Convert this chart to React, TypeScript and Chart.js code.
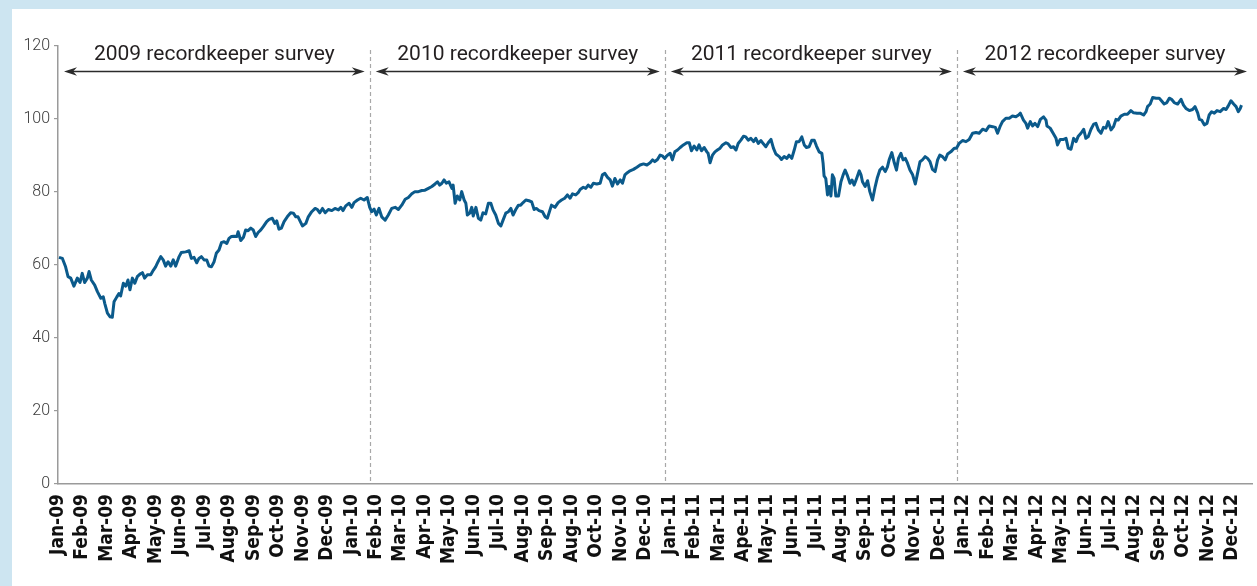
import React, { useEffect, useRef } from "react";
import { Chart, registerables } from "chart.js";

Chart.register(...registerables);

// Category tick labels, exactly as printed on the original chart
const monthLabels = [
  "Jan-09", "Feb-09", "Mar-09", "Apr-09", "May-09", "Jun-09", "Jul-09", "Aug-09", "Sep-09", "Oct-09", "Nov-09", "Dec-09",
  "Jan-10", "Feb-10", "Mar-10", "Apr-10", "May-10", "Jun-10", "Jul-10", "Aug-10", "Sep-10", "Aug-10", "Oct-10", "Nov-10", "Dec-10",
  "Jan-11", "Feb-11", "Mar-11", "Ape-11", "May-11", "Jun-11", "Jul-11", "Aug-11", "Sep-11", "Oct-11", "Nov-11", "Dec-11",
  "Jan-12", "Feb-12", "Mar-12", "Apr-12", "May-12", "Jun-12", "Jul-12", "Aug-12", "Sep-12", "Oct-12", "Nov-12", "Dec-12",
];

// Position of each observation, in tick-label units (0 = Jan-09)
const months = [
  0.04, 0.18, 0.31, 0.41, 0.52, 0.65, 0.79, 0.90, 0.99, 1.09, 1.20, 1.27, 1.36, 1.50, 1.61, 1.75, 1.85, 1.91, 2.02, 2.13,
  2.22, 2.29, 2.40, 2.49, 2.56, 2.67, 2.77, 2.86, 2.94, 3.04, 3.14, 3.24, 3.35, 3.45, 3.54, 3.65, 3.79, 3.90, 3.99, 4.09,
  4.20, 4.30, 4.40, 4.50, 4.61, 4.71, 4.81, 4.95, 5.04, 5.22, 5.36, 5.45, 5.56, 5.67, 5.76, 5.86, 5.97, 6.08, 6.17, 6.27,
  6.38, 6.47, 6.58, 6.68, 6.79, 6.90, 6.99, 7.08, 7.20, 7.31, 7.36, 7.47, 7.58, 7.67, 7.77, 7.88, 7.98, 8.08, 8.18, 8.29,
  8.39, 8.53, 8.63, 8.76, 8.86, 8.94, 9.03, 9.13, 9.24, 9.37, 9.51, 9.62, 9.72, 9.81,
  9.99, 10.13, 10.23, 10.37, 10.51, 10.60, 10.70, 10.81, 10.92, 11.05, 11.19, 11.32, 11.46, 11.56, 11.65, 11.76, 11.90,
  12.01, 12.10, 12.24, 12.37, 12.51, 12.64, 12.74, 12.82, 12.92, 13.01, 13.12, 13.23, 13.37, 13.50, 13.64, 13.78, 13.91,
  14.05, 14.19, 14.32, 14.46, 14.59, 14.73, 14.87, 15.00, 15.14, 15.28, 15.41, 15.51, 15.60, 15.69, 15.78, 15.87, 15.98,
  16.10, 16.15, 16.23, 16.32, 16.42, 16.50, 16.60, 16.67, 16.73, 16.83, 16.91, 16.97, 17.08, 17.18, 17.28, 17.37, 17.48,
  17.59, 17.69, 17.78, 17.89, 18.00, 18.10, 18.19, 18.30, 18.41, 18.51, 18.60, 18.71, 18.82, 18.91, 19.01, 19.12, 19.25,
  19.36, 19.46, 19.55, 19.66, 19.80, 19.91, 20.00,
  20.17, 20.31, 20.44, 20.58, 20.71, 20.82, 20.93, 21.03, 21.16, 21.26, 21.34, 21.47, 21.57, 21.67, 21.78, 21.88, 22.02,
  22.16, 22.25, 22.35, 22.46, 22.57, 22.66, 22.76, 22.87, 22.98, 23.07, 23.17, 23.27, 23.38, 23.52, 23.66, 23.79, 23.93,
  24.07, 24.20, 24.30, 24.39, 24.50, 24.61, 24.70, 24.80, 24.91, 25.02, 25.11, 25.21, 25.32, 25.43, 25.56, 25.70, 25.80,
  25.89, 26.00, 26.11, 26.20, 26.30, 26.41, 26.52, 26.57, 26.65, 26.75, 26.85, 26.95, 27.06, 27.16, 27.30, 27.39, 27.50,
  27.61, 27.71, 27.80, 27.91, 28.02, 28.11, 28.21, 28.32, 28.43, 28.52, 28.62, 28.73, 28.83, 28.93, 29.03, 29.14, 29.24,
  29.34, 29.48, 29.57, 29.68, 29.79,
  29.88, 29.99, 30.09, 30.18, 30.29, 30.40, 30.50, 30.59, 30.70, 30.81, 30.91, 31.00, 31.11, 31.22, 31.27, 31.31, 31.38,
  31.45, 31.52, 31.59, 31.65, 31.72, 31.79, 31.90, 32.00, 32.09, 32.17, 32.27, 32.37, 32.45, 32.54, 32.64, 32.75, 32.82,
  32.88, 32.99, 33.09, 33.18, 33.29, 33.40, 33.49, 33.59, 33.70, 33.81, 33.90, 33.97, 34.08, 34.18, 34.27, 34.35, 34.45,
  34.54, 34.63, 34.72, 34.82, 34.93, 35.04, 35.13, 35.23, 35.33, 35.44, 35.54, 35.64, 35.74, 35.85, 35.95, 36.04, 36.15,
  36.26, 36.36, 36.49, 36.63, 36.72, 36.83, 36.97, 37.11, 37.24, 37.38, 37.52, 37.65, 37.79, 37.93, 38.06, 38.20, 38.31,
  38.40, 38.50, 38.60, 38.74, 38.88, 39.01,
  39.15, 39.26, 39.33, 39.46, 39.56, 39.63, 39.74, 39.83, 39.93, 40.04, 40.15, 40.28, 40.38, 40.42, 40.55, 40.69, 40.79,
  40.85, 40.96, 41.10, 41.20, 41.29, 41.40, 41.51, 41.61, 41.70, 41.81, 41.92, 42.01, 42.11, 42.22, 42.33, 42.42, 42.52,
  42.63, 42.73, 42.83, 42.92, 43.04, 43.14, 43.24, 43.33, 43.44, 43.58, 43.71, 43.85, 43.96, 44.10, 44.23, 44.37, 44.47,
  44.53, 44.64, 44.74, 44.88, 45.01, 45.10, 45.21, 45.32, 45.42, 45.51, 45.62, 45.76, 45.90, 46.00, 46.10, 46.24, 46.37,
  46.47, 46.58, 46.65, 46.74, 46.85, 46.96, 47.05, 47.15, 47.26, 47.37, 47.50, 47.64, 47.74, 47.83, 47.94, 48.05, 48.15,
  48.24, 48.32, 48.37,
];

// Index value at each observation
const values = [
  62.1, 61.8, 59.5, 56.8, 56.4, 54.2, 56.4, 55.2, 57.7, 55.2, 56.4, 58.2, 55.9, 54.5, 52.7, 50.9, 51.3, 49.5, 46.8, 45.8,
  45.7, 49.9, 51.2, 52.2, 51.5, 55.0, 54.2, 55.9, 53.2, 56.4, 55.0, 56.8, 57.5, 57.9, 56.4, 57.3, 57.3, 58.6, 59.5, 60.9,
  62.3, 61.4, 59.7, 60.9, 59.7, 61.4, 59.7, 62.3, 63.4, 63.6, 63.9, 61.8, 62.1, 60.6, 61.8, 62.3, 61.4, 61.4, 59.7, 59.5,
  60.9, 63.2, 64.1, 66.1, 66.4, 65.9, 67.3, 67.8, 67.9, 67.8, 69.1, 66.7, 67.6, 69.6, 69.4, 70.1, 69.6, 67.8, 68.9, 69.6,
  70.5, 71.9, 72.5, 72.8, 71.4, 72.1, 69.8, 70.1, 71.9, 73.2, 74.3, 74.2, 73.2, 73.2,
  70.7, 71.4, 73.2, 74.6, 75.5, 75.2, 74.3, 75.5, 74.3, 75.2, 74.9, 75.5, 75.1, 75.8, 74.9, 76.2, 76.9,
  75.8, 77.1, 77.8, 78.3, 77.8, 78.5, 75.8, 74.6, 75.3, 73.7, 75.5, 73.2, 72.3, 73.7, 75.5, 75.8, 75.2,
  76.4, 78.0, 78.5, 79.5, 80.1, 80.1, 80.4, 80.5, 81.0, 81.5, 82.2, 82.8, 81.9, 82.4, 83.3, 82.4, 82.8,
  81.0, 81.9, 76.9, 78.9, 77.8, 80.1, 77.8, 76.9, 73.7, 74.2, 75.8, 73.4, 75.8, 72.8, 72.3, 74.3, 74.0,
  76.9, 76.9, 75.1, 73.7, 71.4, 70.7, 72.3, 74.2, 74.6, 75.5, 73.7, 75.2, 76.4, 76.4, 77.1, 77.8, 77.6,
  77.3, 75.2, 75.5, 74.9, 74.6, 73.2, 72.8,
  76.4, 75.8, 77.1, 77.8, 78.3, 79.2, 78.3, 79.5, 79.2, 79.8, 80.7, 81.3, 81.0, 81.9, 81.3, 82.4, 82.2,
  82.4, 84.7, 85.1, 84.0, 83.3, 81.6, 83.7, 82.2, 83.3, 82.4, 84.7, 85.3, 85.8, 86.2, 86.8, 87.4, 87.7,
  87.4, 88.0, 88.8, 88.3, 88.9, 90.1, 89.9, 89.2, 90.1, 90.6, 88.8, 91.0, 91.5, 92.2, 92.9, 93.5, 93.5,
  91.3, 92.6, 91.5, 92.9, 91.3, 92.2, 91.0, 90.6, 88.0, 90.1, 91.0, 91.5, 92.0, 92.9, 93.5, 93.2, 92.2,
  92.4, 91.5, 93.3, 94.2, 95.3, 95.1, 94.2, 94.7, 93.8, 94.7, 93.3, 94.1, 93.2, 92.4, 93.5, 94.4, 92.0,
  90.4, 89.7, 88.9, 89.7, 89.2,
  90.1, 89.2, 91.5, 93.8, 93.8, 95.1, 92.9, 92.2, 92.4, 94.2, 94.2, 92.6, 91.0, 90.6, 87.9, 84.4, 83.7,
  79.2, 81.5, 78.9, 84.7, 83.7, 78.9, 78.9, 82.8, 84.7, 86.0, 84.4, 82.4, 83.3, 81.9, 83.7, 85.8, 84.7,
  82.8, 81.5, 83.1, 80.1, 77.8, 81.5, 84.0, 86.0, 86.8, 85.6, 86.9, 88.8, 90.8, 88.0, 86.0, 89.2, 90.6,
  88.8, 89.2, 87.9, 86.0, 84.7, 82.2, 85.1, 88.3, 88.8, 89.7, 89.2, 88.3, 86.2, 85.6, 88.8, 90.1, 89.7,
  88.8, 90.4, 91.0, 92.0, 92.0, 93.3, 94.1, 93.8, 94.4, 96.1, 96.3, 96.1, 97.2, 96.8, 98.1, 97.9, 97.7,
  96.1, 97.9, 99.3, 100.2, 100.2, 100.8,
  100.6, 101.1, 101.6, 99.7, 98.8, 97.5, 99.3, 98.1, 98.8, 97.9, 99.9, 100.6, 99.7, 98.1, 97.5, 95.9, 94.7,
  92.9, 94.4, 94.4, 94.7, 92.0, 91.7, 94.7, 93.8, 95.3, 96.1, 97.2, 94.7, 95.2, 97.2, 98.6, 98.8, 97.0,
  96.1, 97.7, 97.5, 99.3, 97.0, 97.9, 99.9, 99.7, 100.8, 101.3, 101.3, 102.3, 101.7, 101.6, 101.6, 101.1, 102.0,
  103.4, 104.1, 105.9, 105.7, 105.7, 105.0, 104.1, 104.5, 105.7, 105.4, 104.5, 104.1, 105.4, 103.8, 102.9, 102.3, 102.6,
  103.4, 101.7, 99.9, 99.7, 98.4, 98.8, 101.1, 102.0, 101.6, 102.3, 102.0, 102.9, 102.6, 103.6, 105.0, 104.1, 103.4,
  102.0, 102.9, 103.8,
];

// Survey periods: labels and the dividing dates (tick-label units)
const surveyLabels = [
  "2009 recordkeeper survey",
  "2010 recordkeeper survey",
  "2011 recordkeeper survey",
  "2012 recordkeeper survey",
];
const surveyDividers = [12.74, 24.8, 36.74];

const X_MIN = 0;
const X_MAX = 48.8;
const Y_MIN = 0;
const Y_MAX = 120;
const Y_STEP = 20;
const ARROW_LEVEL = 113.2;
const LABEL_LEVEL = 117.7;

const LINE_COLOR = "#0b5a8b";
const AXIS_COLOR = "#9a9a9a";

function drawHead(ctx: CanvasRenderingContext2D, tipX: number, y: number, dir: number) {
  const len = 13;
  const half = 4.2;
  const notch = 9;
  ctx.beginPath();
  ctx.moveTo(tipX, y);
  ctx.lineTo(tipX - dir * len, y - half);
  ctx.lineTo(tipX - dir * notch, y);
  ctx.lineTo(tipX - dir * len, y + half);
  ctx.closePath();
  ctx.fill();
}

const surveyPlugin = {
  id: "surveyPeriods",
  beforeDatasetsDraw(chart: any) {
    const { ctx, chartArea, scales } = chart;
    const x = scales.x;
    ctx.save();
    ctx.strokeStyle = "#a8a8a8";
    ctx.lineWidth = 1.2;
    ctx.setLineDash([4, 3]);
    surveyDividers.forEach((d) => {
      const px = Math.round(x.getPixelForValue(d)) + 0.5;
      ctx.beginPath();
      ctx.moveTo(px, chartArea.top + 4);
      ctx.lineTo(px, chartArea.bottom);
      ctx.stroke();
    });
    ctx.restore();
  },
  afterDatasetsDraw(chart: any) {
    const { ctx, scales } = chart;
    const x = scales.x;
    const y = scales.y;
    const bounds = [X_MIN, ...surveyDividers, X_MAX];
    const ay = Math.round(y.getPixelForValue(ARROW_LEVEL)) + 0.5;
    const ty = y.getPixelForValue(LABEL_LEVEL);
    ctx.save();
    ctx.strokeStyle = "#2b2b2b";
    ctx.lineWidth = 1.5;
    surveyLabels.forEach((lab, i) => {
      const x0 = x.getPixelForValue(bounds[i]) + 6;
      const x1 = x.getPixelForValue(bounds[i + 1]) - 5;
      ctx.fillStyle = "#2b2b2b";
      ctx.beginPath();
      ctx.moveTo(x0 + 8, ay);
      ctx.lineTo(x1 - 8, ay);
      ctx.stroke();
      drawHead(ctx, x0, ay, -1);
      drawHead(ctx, x1, ay, 1);
      ctx.font = "400 21px Roboto";
      ctx.textAlign = "center";
      ctx.textBaseline = "middle";
      ctx.fillStyle = "#231f20";
      ctx.fillText(lab, (x0 + x1) / 2, ty);
    });
    ctx.restore();
  },
};

export default function App() {
  const canvasRef = useRef<HTMLCanvasElement | null>(null);

  useEffect(() => {
    if (!canvasRef.current) return;
    const points = months.map((m, i) => ({ x: m, y: values[i] }));
    const chart = new Chart(canvasRef.current, {
      type: "line",
      data: {
        datasets: [
          {
            data: points,
            borderColor: LINE_COLOR,
            borderWidth: 3,
            pointRadius: 0,
            tension: 0,
            fill: false,
            borderJoinStyle: "round",
          },
        ],
      },
      options: {
        animation: false,
        responsive: false,
        layout: { padding: { left: 0, top: 37, right: 5, bottom: 0 } },
        plugins: {
          legend: { display: false },
          tooltip: { enabled: false },
        },
        scales: {
          x: {
            type: "linear",
            min: X_MIN,
            max: X_MAX,
            afterBuildTicks: (scale: any) => {
              scale.ticks = monthLabels.map((_, i) => ({ value: i }));
            },
            afterFit: (scale: any) => {
              scale.height = 102;
              scale.paddingLeft = 0;
              scale.paddingRight = 0;
            },
            grid: { display: false, drawTicks: false },
            border: { display: true, color: AXIS_COLOR, width: 1.5 },
            ticks: {
              autoSkip: false,
              maxRotation: 90,
              minRotation: 90,
              padding: 10,
              color: "#111111",
              font: { family: "'DejaVu Sans Condensed', 'DejaVu Sans'", size: 19, weight: "bold" },
              callback: (_v: any, index: number) => monthLabels[index],
            },
          },
          y: {
            type: "linear",
            min: Y_MIN,
            max: Y_MAX,
            afterFit: (scale: any) => {
              scale.width = 46;
            },
            grid: {
              drawOnChartArea: false,
              drawTicks: true,
              tickLength: 4,
              color: AXIS_COLOR,
              lineWidth: 1.2,
            },
            border: { display: true, color: AXIS_COLOR, width: 1.5 },
            ticks: {
              stepSize: Y_STEP,
              padding: 4,
              color: "#3a3a3a",
              font: { family: "Roboto", size: 16, weight: "300" },
            },
          },
        },
      },
      plugins: [surveyPlugin],
    });
    return () => chart.destroy();
  }, []);

  return (
    <div style={{ position: "fixed", left: 0, top: 0, width: 1257, height: 586, background: "#cde5f1" }}>
      <div style={{ position: "absolute", left: 12, top: 9, width: 1245, height: 577, background: "#ffffff" }}>
        <canvas ref={canvasRef} width={1245} height={577} style={{ display: "block" }} />
      </div>
    </div>
  );
}
